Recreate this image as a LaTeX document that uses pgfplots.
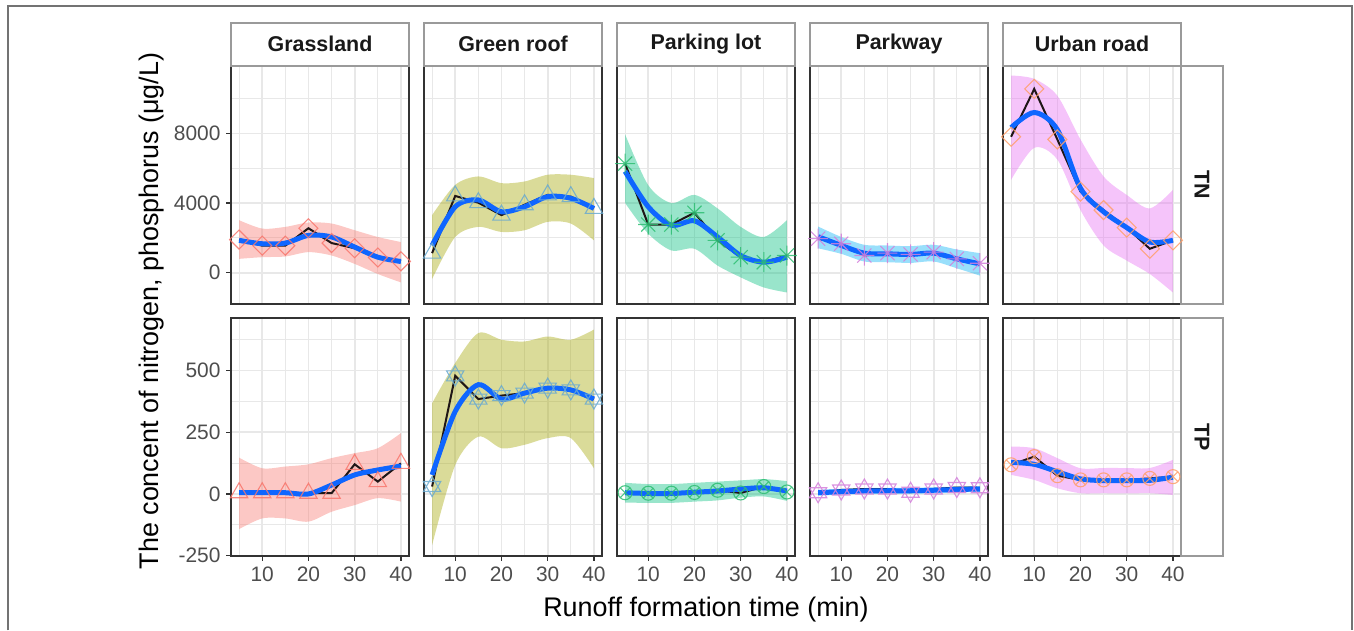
\documentclass[border=0pt]{standalone}
\usepackage{fontspec}
\setmainfont{Liberation Sans}
\usepackage{pgfplots}
\pgfplotsset{compat=1.18}
\usepgfplotslibrary{fillbetween}
\usepackage{pgfplotstable}

\definecolor{gridc}{HTML}{E8E8E8}
\definecolor{framec}{HTML}{333333}
\definecolor{stripb}{HTML}{9A9A9A}
\definecolor{tickc}{HTML}{4D4D4D}
\definecolor{smoothc}{HTML}{0F66FF}
\definecolor{lineblack}{HTML}{1F1616}
\definecolor{cR}{HTML}{F8766D}
\definecolor{cO}{HTML}{A3A500}
\definecolor{cG}{HTML}{00BF7D}
\definecolor{cC}{HTML}{00B0F6}
\definecolor{cP}{HTML}{E76BF3}
\definecolor{mR}{HTML}{F8766D}
\definecolor{mB}{HTML}{6AAAD0}
\definecolor{mG}{HTML}{2EBE72}
\definecolor{mP}{HTML}{D47FDB}
\definecolor{mO}{HTML}{FF9F6A}

\pgfdeclareplotmark{aster8}{%
  \pgfpathmoveto{\pgfqpoint{-\pgfplotmarksize}{0pt}}\pgfpathlineto{\pgfqpoint{\pgfplotmarksize}{0pt}}%
  \pgfpathmoveto{\pgfqpoint{0pt}{-\pgfplotmarksize}}\pgfpathlineto{\pgfqpoint{0pt}{\pgfplotmarksize}}%
  \pgfpathmoveto{\pgfqpoint{-0.7071\pgfplotmarksize}{-0.7071\pgfplotmarksize}}\pgfpathlineto{\pgfqpoint{0.7071\pgfplotmarksize}{0.7071\pgfplotmarksize}}%
  \pgfpathmoveto{\pgfqpoint{-0.7071\pgfplotmarksize}{0.7071\pgfplotmarksize}}\pgfpathlineto{\pgfqpoint{0.7071\pgfplotmarksize}{-0.7071\pgfplotmarksize}}%
  \pgfusepathqstroke}
\pgfdeclareplotmark{david}{%
  \pgfpathmoveto{\pgfqpoint{0pt}{\pgfplotmarksize}}%
  \pgfpathlineto{\pgfqpoint{0.866\pgfplotmarksize}{-0.5\pgfplotmarksize}}%
  \pgfpathlineto{\pgfqpoint{-0.866\pgfplotmarksize}{-0.5\pgfplotmarksize}}\pgfpathclose
  \pgfpathmoveto{\pgfqpoint{0pt}{-\pgfplotmarksize}}%
  \pgfpathlineto{\pgfqpoint{0.866\pgfplotmarksize}{0.5\pgfplotmarksize}}%
  \pgfpathlineto{\pgfqpoint{-0.866\pgfplotmarksize}{0.5\pgfplotmarksize}}\pgfpathclose
  \pgfusepathqstroke}
\pgfdeclareplotmark{diamondR}{%
  \pgfpathmoveto{\pgfqpoint{0pt}{\pgfplotmarksize}}%
  \pgfpathlineto{\pgfqpoint{\pgfplotmarksize}{0pt}}%
  \pgfpathlineto{\pgfqpoint{0pt}{-\pgfplotmarksize}}%
  \pgfpathlineto{\pgfqpoint{-\pgfplotmarksize}{0pt}}\pgfpathclose
  \pgfusepathqstroke}

% columns: x raw sm up lo
\pgfplotstableread{
x raw sm up lo
5 1900 1855 3014 792
10 1550 1660 2531 889
15 1550 1700 2628 928
20 2550 2140 2879 1180
25 1700 2050 2821 985
30 1400 1470 2435 502
35 870 890 2048 -77
40 650 640 1758 -561
}\gTN
\pgfplotstableread{
x raw sm up lo
5 1120 1565 3304 -367
10 4406 3787 5043 2048
15 4019 4174 5526 2628
20 3304 3497 5140 2338
25 3900 3787 5237 2435
30 4464 4367 5623 2918
35 4367 4271 5623 2821
40 3690 3690 5430 1855
}\rTN
\pgfplotstableread{
x raw sm up lo
5 6261 5816 7943 3999
10 2763 3787 5024 2241
15 2763 2725 3999 1275
20 3439 2976 4464 1372
25 1855 2048 3690 406
30 889 985 2628 -271
35 600 600 2048 -851
40 985 889 3014 -1140
}\pTN
\pgfplotstableread{
x raw sm up lo
5 1951 2067 2650 1400
10 1661 1565 2050 1080
15 985 1120 1600 640
20 1120 1082 1560 600
25 1050 1043 1520 560
30 1178 1120 1600 640
35 792 792 1330 250
40 541 502 1120 -170
}\wTN
\pgfplotstableread{
x raw sm up lo
5 7808 8329 11323 5333
10 10551 9198 11130 7170
15 7652 8214 10163 6493
20 4657 4850 7652 3594
25 3594 3500 5526 1565
30 2589 2589 4464 696
35 1372 1758 3690 -77
40 1855 1855 4754 -1140
}\uTN
\pgfplotstableread{
x raw sm up lo
5 5 5 147 -142
10 5 5 104 -99
15 5 5 111 -99
20 3 0 120 -112
25 3 36 145 -72
30 120 77 165 -45
35 50 97 185 -17
40 124 113 246 -31
}\gTP
\pgfplotstableread{
x raw sm up lo
5 30 77 367 -207
10 478 334 530 117
15 384 442 651 232
20 398 384 624 185
25 408 408 617 199
30 428 428 637 226
35 421 421 624 226
40 384 384 665 104
}\rTP
\pgfplotstableread{
x raw sm up lo
5 5 5 45 -35
10 3 2 40 -36
15 3 2 40 -36
20 6 7 45 -31
25 15 12 50 -26
30 4 20 55 -15
35 30 25 60 -10
40 8 12 52 -28
}\pTP
\pgfplotstableread{
x raw sm up lo
5 5 5 17 -7
10 16 9 21 -3
15 20 12 24 0
20 20 13 25 1
25 7 13 25 1
30 20 15 27 3
35 26 18 30 6
40 25 20 32 8
}\wTP
\pgfplotstableread{
x raw sm up lo
5 118 128 192 77
10 151 120 185 57
15 74 90 145 23
20 57 61 104 3
25 57 54 105 3
30 57 54 105 2
35 63 55 105 3
40 70 68 138 -4
}\uTP

\pgfplotsset{
  panel/.style={
    scale only axis, width=178bp, height=238bp, anchor=south west,
    xmin=3.25, xmax=41.75,
    xtick={10,20,30,40}, minor xtick={5,15,25,35},
    scaled x ticks=false, scaled y ticks=false,
    grid=both,
    major grid style={draw=gridc, line width=1.7bp},
    minor grid style={draw=gridc, line width=0.9bp},
    axis line style={draw=framec, line width=1.3bp},
    tick align=outside, major tick length=5bp, minor tick length=0bp,
    every tick/.style={draw=framec, line width=1.3bp},
    xtick pos=bottom, ytick pos=left,
    tick label style={font=\fontsize{21}{21}\selectfont, text=tickc},
    xticklabel style={yshift=-2bp},
    yticklabel style={xshift=-2bp},
    xticklabels={}, yticklabels={},
  },
  tn/.style={ymin=-1800, ymax=11870, ytick={0,4000,8000}, minor ytick={-2000,2000,6000,10000}, xtick style={draw=none}},
  tp/.style={ymin=-251, ymax=712, ytick={-250,0,250,500}, minor ytick={-125,125,375,625}, xticklabels={10,20,30,40}},
  inner/.style={ytick style={draw=none}},
}

\newcommand\series[3]{%
  \addplot[only marks, mark options={line width=1.1bp, fill=none, draw opacity=0.85}, #3] table[x=x,y=raw]{#1};
  \addplot[name path=U, draw=none, smooth, forget plot] table[x=x,y=up]{#1};
  \addplot[name path=L, draw=none, smooth, forget plot] table[x=x,y=lo]{#1};
  \addplot[fill=#2, fill opacity=0.4, draw=none, forget plot] fill between[of=U and L];
  \addplot[draw=lineblack, line width=2bp, forget plot] table[x=x,y=raw]{#1};
  \addplot[draw=smoothc, line width=5bp, smooth, forget plot] table[x=x,y=sm]{#1};
}

\begin{document}
\begin{tikzpicture}[x=1bp,y=1bp]
\path (0,0) rectangle (1354,631);
\draw[color=black!55, line width=1.3bp] (8,0.7) -- (8,625) -- (1352,625) -- (1352,0.7);

% strips
\foreach \nm [count=\i from 0] in {Grassland,Green roof,Parking lot,Parkway,Urban road}{
  \draw[stripb, line width=1.3bp, fill=white] ({231+193*\i},565) rectangle ({409+193*\i},608);
  \node[font=\fontsize{21.5}{21.5}\selectfont\bfseries, text=black!90] at ({320+193*\i},587) {\nm};
}
\draw[stripb, line width=1.3bp, fill=white] (1181,327) rectangle (1223,565);
\draw[stripb, line width=1.3bp, fill=white] (1181,75) rectangle (1223,313);
\node[rotate=-90, font=\fontsize{21.5}{21.5}\selectfont\bfseries, text=black!90] at (1202,446) {TN};
\node[rotate=-90, font=\fontsize{21.5}{21.5}\selectfont\bfseries, text=black!90] at (1202,194) {TP};

% top row
\begin{axis}[panel, tn, at={(231bp,327bp)}, yticklabels={0,4000,8000}]
\series{\gTN}{cR}{mark=diamondR, mark size=9.5bp, mR}
\end{axis}
\begin{axis}[panel, tn, inner, at={(424bp,327bp)}]
\series{\rTN}{cO}{mark=triangle, mark size=10bp, mB}
\end{axis}
\begin{axis}[panel, tn, inner, at={(617bp,327bp)}]
\series{\pTN}{cG}{mark=aster8, mark size=10bp, mG}
\end{axis}
\begin{axis}[panel, tn, inner, at={(810bp,327bp)}]
\series{\wTN}{cC}{mark=aster8, mark size=10bp, mP}
\end{axis}
\begin{axis}[panel, tn, inner, at={(1003bp,327bp)}]
\series{\uTN}{cP}{mark=diamondR, mark size=9.5bp, mO}
\end{axis}

% bottom row
\begin{axis}[panel, tp, at={(231bp,75bp)}, yticklabels={-250,0,250,500}]
\series{\gTP}{cR}{mark=triangle, mark size=10bp, mR}
\end{axis}
\begin{axis}[panel, tp, inner, at={(424bp,75bp)}]
\series{\rTP}{cO}{mark=david, mark size=10bp, mB}
\end{axis}
\begin{axis}[panel, tp, inner, at={(617bp,75bp)}]
\series{\pTP}{cG}{mark=otimes, mark size=7bp, mG}
\end{axis}
\begin{axis}[panel, tp, inner, at={(810bp,75bp)}]
\series{\wTP}{cC}{mark=david, mark size=10bp, mP}
\end{axis}
\begin{axis}[panel, tp, inner, at={(1003bp,75bp)}]
\series{\uTP}{cP}{mark=otimes, mark size=7bp, mO}
\end{axis}

\node[rotate=90, font=\fontsize{27}{27}\selectfont, text=black] at (152,320) {The concent of nitrogen, phosphorus (μg/L)};
\node[anchor=base, font=\fontsize{27}{27}\selectfont, text=black] at (706,14) {Runoff formation time (min)};
\end{tikzpicture}
\end{document}
